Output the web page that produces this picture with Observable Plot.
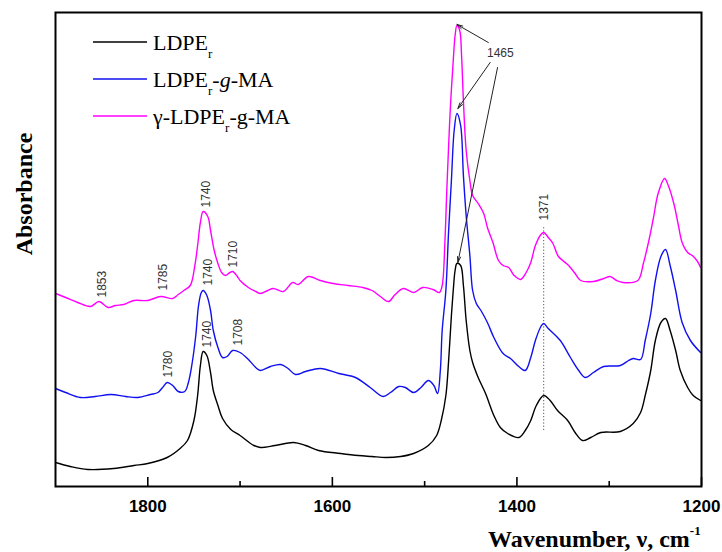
<!DOCTYPE html>
<html><head><meta charset="utf-8">
<script src="https://cdn.jsdelivr.net/npm/d3@7"></script>
<script src="https://cdn.jsdelivr.net/npm/@observablehq/plot@0.6"></script>
<style>body{margin:0;background:#fff}#chart{width:722px;height:552px}</style>
</head><body><div id="chart"></div>
<script>
// ---- data (wavenumber, cm^-1 ; absorbance, arbitrary offset units) ----
const wnBlack = [1900,1884,1865,1837,1815,1800,1779,1765,1757,1750,1746,1743,1740,1736,1732,1729,1724,1719,1710,1700,1685,1678,1662,1642,1629,1615,1591,1572,1557,1542,1526,1512,1496,1487,1482,1477,1474,1471,1469,1467,1465,1461,1458,1455,1451,1448,1442,1434,1425,1418,1410,1398,1391,1385,1379,1371,1364,1356,1345,1337,1329,1320,1309,1288,1274,1266,1261,1255,1250,1244,1239,1234,1228,1223,1215,1209,1201];
const absBlack = [0.120,0.100,0.085,0.090,0.105,0.115,0.145,0.190,0.230,0.330,0.455,0.605,0.675,0.655,0.570,0.480,0.405,0.340,0.285,0.255,0.205,0.195,0.205,0.220,0.205,0.180,0.165,0.155,0.150,0.145,0.150,0.165,0.205,0.255,0.330,0.455,0.630,0.855,0.980,1.080,1.115,1.105,1.005,0.830,0.680,0.620,0.545,0.465,0.355,0.295,0.265,0.245,0.280,0.330,0.405,0.455,0.430,0.380,0.330,0.270,0.230,0.245,0.270,0.275,0.315,0.370,0.455,0.580,0.730,0.820,0.840,0.780,0.680,0.580,0.495,0.455,0.430];

const wnBlue = [1900,1889,1873,1857,1840,1824,1811,1797,1789,1784,1779,1773,1767,1760,1756,1752,1748,1745,1742,1740,1736,1732,1729,1724,1719,1714,1708,1700,1692,1683,1678,1667,1656,1648,1640,1629,1613,1593,1575,1559,1545,1537,1528,1521,1512,1504,1496,1490,1486,1483,1481,1477,1474,1471,1468,1465,1461,1458,1455,1451,1448,1444,1439,1432,1425,1415,1407,1398,1391,1385,1380,1374,1371,1366,1353,1342,1333,1326,1317,1306,1288,1279,1274,1266,1261,1255,1250,1244,1239,1234,1228,1221,1212,1201];
const absBlue = [0.490,0.470,0.445,0.450,0.460,0.450,0.445,0.460,0.470,0.495,0.520,0.505,0.475,0.475,0.520,0.615,0.755,0.905,0.970,0.980,0.955,0.880,0.780,0.695,0.645,0.650,0.680,0.670,0.640,0.595,0.580,0.600,0.610,0.590,0.560,0.575,0.590,0.565,0.545,0.495,0.450,0.470,0.500,0.495,0.470,0.495,0.530,0.505,0.465,0.580,0.780,0.980,1.280,1.530,1.780,1.865,1.805,1.555,1.355,1.155,0.980,0.915,0.880,0.820,0.745,0.665,0.640,0.600,0.580,0.645,0.730,0.800,0.815,0.790,0.730,0.645,0.580,0.545,0.570,0.600,0.605,0.630,0.640,0.635,0.730,0.865,1.030,1.150,1.185,1.105,0.980,0.820,0.730,0.670];

const wnMag = [1900,1889,1876,1862,1853,1843,1835,1826,1815,1800,1786,1773,1767,1761,1754,1749,1746,1743,1740,1735,1732,1728,1724,1720,1716,1711,1708,1703,1700,1691,1683,1678,1670,1664,1653,1643,1637,1626,1613,1599,1583,1567,1557,1548,1539,1532,1523,1512,1502,1491,1484,1481,1478,1476,1474,1472,1469,1467,1465,1462,1460,1458,1455,1451,1448,1442,1436,1432,1426,1420,1415,1409,1403,1396,1390,1385,1380,1374,1371,1366,1361,1355,1344,1337,1331,1317,1306,1299,1292,1285,1269,1263,1257,1252,1247,1240,1236,1230,1225,1221,1215,1210,1205,1201];
const absMag = [0.965,0.945,0.920,0.900,0.925,0.895,0.905,0.910,0.930,0.930,0.950,0.940,0.960,0.980,1.005,1.105,1.205,1.320,1.375,1.350,1.280,1.180,1.115,1.070,1.055,1.070,1.075,1.050,1.030,0.995,0.975,0.965,0.980,0.990,0.975,1.020,1.010,1.050,1.030,1.015,1.005,0.995,0.980,0.950,0.925,0.960,0.990,0.970,0.995,0.985,0.970,1.005,1.230,1.480,1.705,1.905,2.130,2.255,2.305,2.280,2.155,1.930,1.680,1.530,1.455,1.415,1.365,1.295,1.220,1.130,1.105,1.095,1.055,1.035,1.070,1.120,1.205,1.260,1.270,1.245,1.215,1.150,1.105,1.065,1.030,1.025,1.040,1.050,1.030,1.020,1.030,1.115,1.230,1.345,1.465,1.540,1.505,1.415,1.305,1.220,1.170,1.155,1.130,1.095];

const seriesNames = ["LDPEr", "LDPEr-g-MA", "γ-LDPEr-g-MA"];
const seriesColors = ["#000000", "#1010f0", "#ff00ff"];

const majorTicks = [1800, 1600, 1400, 1200];
const minorTicks = [1700, 1500, 1300];

// rotated peak labels: text, wavenumber, absorbance of label foot
const peakText = ["1853","1785","1740","1710","1740","1708","1740","1780","1371"];
const peakWn   = [1849, 1783, 1737, 1707, 1735, 1702, 1736, 1778, 1371];
const peakAbs  = [0.945,0.980,1.395,1.095,1.005,0.705,0.695,0.545,1.330];

// 1465 callout: label position and arrows (tail -> peak)
const calloutText = "1465";
const calloutWn = 1418, calloutAbs = 2.165;
const arrowWn1 = [1431, 1429, 1421];
const arrowAbs1 = [2.220, 2.120, 2.095];
const arrowWn2 = [1465, 1464, 1464];
const arrowAbs2 = [2.310, 1.890, 1.120];

// dotted guide at 1371
const guideWn = 1371, guideAbs1 = 0.28, guideAbs2 = 1.295;

// ---- build tables ----
const allSeries = [[wnBlack, absBlack], [wnBlue, absBlue], [wnMag, absMag]];
const rows = allSeries.flatMap(([wn, ab], k) => wn.map((w, i) => ({series: seriesNames[k], wn: w, a: ab[i]})));
const peaks = peakText.map((t, i) => ({t, wn: peakWn[i], a: peakAbs[i]}));
const arrows = arrowWn1.map((w, i) => ({x1: w, y1: arrowAbs1[i], x2: arrowWn2[i], y2: arrowAbs2[i]}));

const W = 722, H = 552;
const mL = 55, mR = 21, mT = 12, mB = 66;
const innerH = H - mT - mB;

const chart = Plot.plot({
  width: W, height: H,
  marginLeft: mL, marginRight: mR, marginTop: mT, marginBottom: mB,
  style: {fontFamily: "Liberation Sans, Arial, sans-serif", background: "#fff", overflow: "visible"},
  x: {domain: [1900, 1200], label: null},
  y: {domain: [0, 2.37], axis: null},
  color: {domain: seriesNames, range: seriesColors},
  marks: [
    Plot.ruleX([guideWn], {y1: guideAbs1, y2: guideAbs2, stroke: "#555", strokeWidth: 1, strokeDasharray: "1.2,2"}),
    Plot.line(rows, {x: "wn", y: "a", z: "series", stroke: "series", strokeWidth: 1.4, curve: "catmull-rom"}),
    Plot.text(peaks, {x: "wn", y: "a", text: "t", rotate: -90, textAnchor: "start", fontSize: 12, fill: "#333"}),
    Plot.text([calloutText], {x: calloutWn, y: calloutAbs, text: d => d, textAnchor: "middle", fontSize: 12, fill: "#333"}),
    Plot.arrow(arrows, {x1: "x1", y1: "y1", x2: "x2", y2: "y2", stroke: "#222", strokeWidth: 1, headLength: 9, headAngle: 30}),
    Plot.tickX(majorTicks, {x: d => d, insetTop: innerH - 9, strokeWidth: 1.6, stroke: "#000"}),
    Plot.tickX(minorTicks, {x: d => d, insetTop: innerH - 5, strokeWidth: 1.6, stroke: "#000"}),
    Plot.axisX({ticks: majorTicks, tickFormat: d => String(d), tickSize: 0, tickPadding: 13, fontSize: 17, fontWeight: "bold", fill: "#000", label: null}),
    Plot.frame({stroke: "#000", strokeWidth: 2})
  ]
});
document.getElementById("chart").appendChild(chart);

// ---- legend and axis titles (rich text) ----
const svg = d3.select(chart);
const serif = "Liberation Serif, Times New Roman, serif";
const leg = svg.append("g").attr("font-family", serif).attr("font-size", 22).attr("fill", "#000").attr("text-anchor", "start");
const legY = [42, 79, 116];
const legParts = [
  [["LDPE", "n"], ["r", "sub"]],
  [["LDPE", "n"], ["r", "sub"], ["-", "n"], ["g", "it"], ["-MA", "n"]],
  [["γ-LDPE", "n"], ["r", "sub"], ["-g-MA", "n"]]
];
legParts.forEach((parts, i) => {
  leg.append("line").attr("x1", 93).attr("x2", 147).attr("y1", legY[i]).attr("y2", legY[i])
    .attr("stroke", seriesColors[i]).attr("stroke-width", 1.5);
  const t = leg.append("text").attr("x", 153).attr("y", legY[i] + 8).attr("text-anchor", "start");
  let shift = 0;
  parts.forEach(([s, kind]) => {
    const target = kind === "sub" ? 8 : 0;
    const ts = t.append("tspan").text(s).attr("dy", target - shift);
    shift = target;
    if (kind === "sub") ts.attr("font-size", 13);
    if (kind === "it") ts.attr("font-style", "italic");
  });
});

const xt = svg.append("text").attr("x", 488).attr("y", 547).attr("text-anchor", "start")
  .attr("font-family", serif).attr("font-weight", "bold").attr("font-size", 24).attr("fill", "#000");
xt.append("tspan").text("Wavenumber, ν, cm");
xt.append("tspan").text("-1").attr("font-size", 13).attr("dy", -12);

svg.append("text").attr("transform", "translate(32,194) rotate(-90)").attr("text-anchor", "middle")
  .attr("font-family", serif).attr("font-weight", "bold").attr("font-size", 24).attr("fill", "#000")
  .text("Absorbance");
</script>
</body></html>
